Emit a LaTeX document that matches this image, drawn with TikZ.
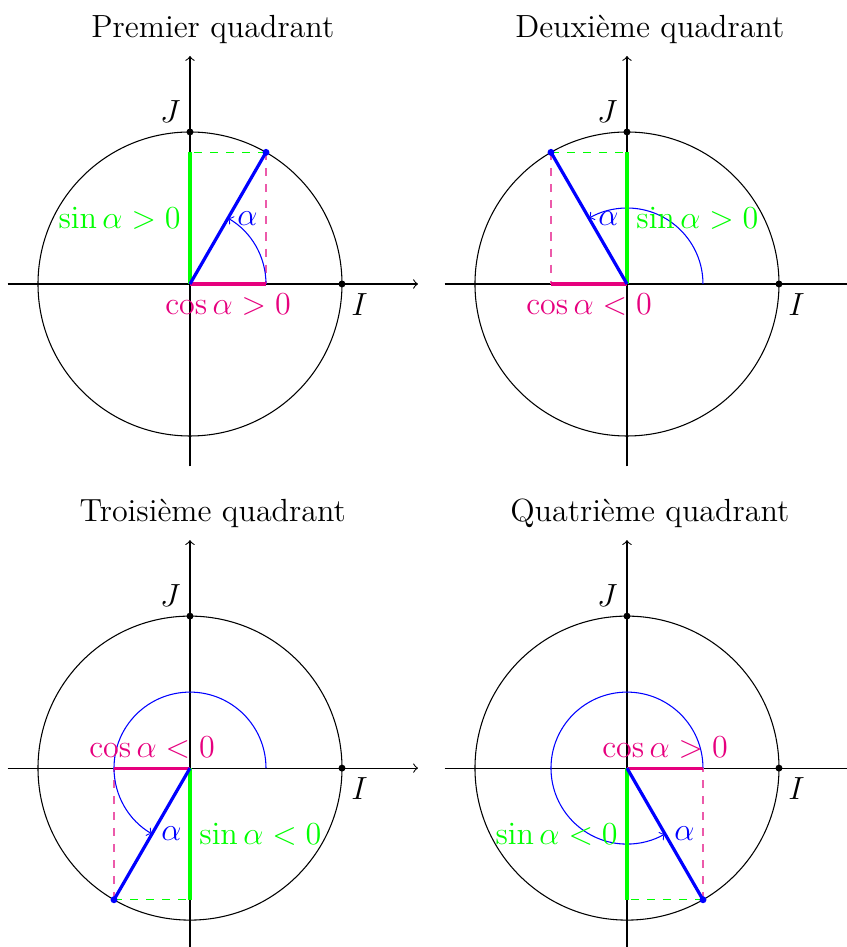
\documentclass[tikz,border=0pt]{standalone}
\usetikzlibrary{calc}
\definecolor{rose}{RGB}{230,0,126}
\definecolor{rosedash}{RGB}{236,90,170}
\tikzset{
  axisline/.style={->, black, line width=0.4pt},
  unitcircle/.style={black, line width=0.4pt},
  dotpt/.style={circle, fill=black, inner sep=0pt, minimum size=2.6pt},
  bluedot/.style={circle, fill=blue, inner sep=0pt, minimum size=2.6pt},
  radiusline/.style={blue, line width=1.2pt},
  sinseg/.style={green, line width=1.2pt},
  cosseg/.style={rose, line width=1.2pt},
  sindash/.style={green, dashed, line width=0.4pt},
  cosdash/.style={rosedash, dashed, line width=0.4pt},
  anglearc/.style={blue, ->, line width=0.4pt},
  lbl/.style={font=\large},
}
\newcommand\quadpanel[9]{%
  \begin{scope}[shift={(#1,#2)}, name prefix=#9-]
    \coordinate (O) at (0,0);
    \coordinate (xs) at (-2.4,0);
    \coordinate (xe) at (3,0);
    \coordinate (ys) at (0,-2.4);
    \coordinate (ye) at (0,3);
    \coordinate (P) at (#4:2);
    \coordinate (Px) at (P |- O);
    \coordinate (Py) at (P -| O);
    \coordinate (A0) at (1,0);
    \coordinate (A1) at (#4:1);
    \draw[unitcircle] (O) circle (2);
    \draw[axisline] (xs) -- (xe);
    \draw[axisline] (ys) -- (ye);
    \draw[cosdash] (P) -- (Px);
    \draw[sindash] (P) -- (Py);
    \draw[anglearc] (A0) arc[start angle=0, end angle=#4, radius=1];
    \draw[cosseg] (O) -- (Px);
    \draw[sinseg] (O) -- (Py);
    \draw[radiusline] (O) -- (P);
    \node[dotpt] (I) at (2,0) {};
    \node[dotpt] (J) at (0,2) {};
    \node[bluedot] (Pd) at (P) {};
    \node[lbl, below right] (Il) at (I) {$I$};
    \node[lbl, above left] (Jl) at (J) {$J$};
    \node[lbl, right, blue] (al) at (A1) {$\alpha$};
    \node[lbl, #6, green] (sl) at ($(O)!0.5!(Py)$) {#5};
    \node[lbl, #8, rose] (cl) at ($(O)!0.5!(Px)$) {#7};
    \node[lbl] (title) at (0.3,3.35) {#3};
  \end{scope}}
\begin{document}
\begin{tikzpicture}
  \useasboundingbox (-2.5,-8.724) rectangle (8.645,3.737);
  \quadpanel{0}{0}{Premier quadrant}{60}{$\sin\alpha>0$}{left}{$\cos\alpha>0$}{below}{a}
  \quadpanel{5.75}{0}{Deuxième quadrant}{120}{$\sin\alpha>0$}{right}{$\cos\alpha<0$}{below}{b}
  \quadpanel{0}{-6.37}{Troisième quadrant}{240}{$\sin\alpha<0$}{right}{$\cos\alpha<0$}{above}{c}
  \quadpanel{5.75}{-6.37}{Quatrième quadrant}{300}{$\sin\alpha<0$}{left}{$\cos\alpha>0$}{above}{d}
\end{tikzpicture}
\end{document}
